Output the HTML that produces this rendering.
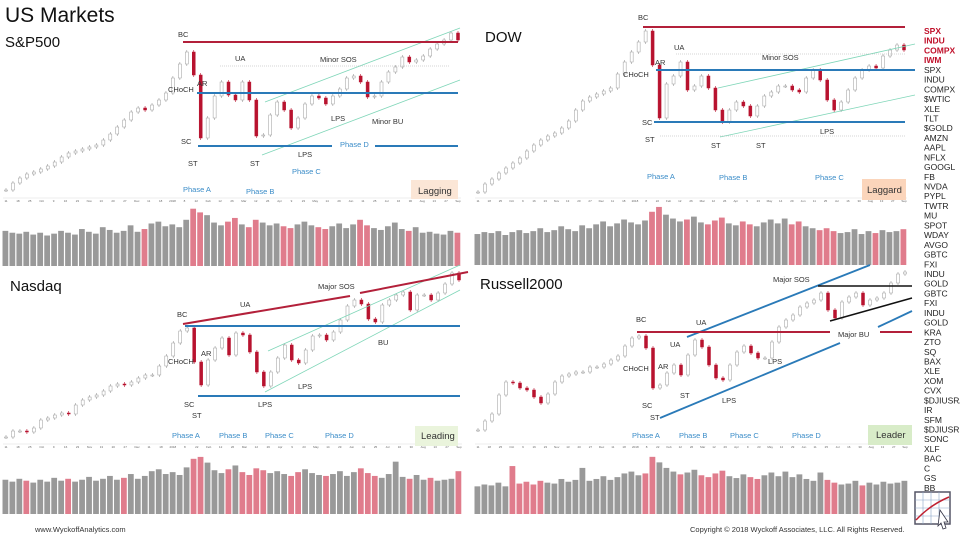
<!DOCTYPE html>
<html><head><meta charset="utf-8"><style>
html,body{margin:0;padding:0;background:#fff;width:960px;height:537px;overflow:hidden}
svg{display:block;font-family:"Liberation Sans",sans-serif}
.lb{font-size:7.5px;fill:#333}
.ph{font-size:7.5px;fill:#3a8cc8}
.tk{font-size:8.5px;fill:#222}
.tkr{font-size:8.5px;fill:#c0102a;font-weight:bold}
.ax{font-size:3px;fill:#666}
</style></head><body>
<svg id="chart" width="960" height="537" viewBox="0 0 960 537">
<text x="5" y="22" font-size="21" fill="#111">US Markets</text>
<text x="5" y="47" font-size="15" fill="#111">S&amp;P500</text>
<text x="485" y="42" font-size="15" fill="#111">DOW</text>
<text x="10" y="291" font-size="15" fill="#111">Nasdaq</text>
<text x="480" y="289" font-size="15" fill="#111">Russell2000</text>
<g id="marks"></g>

<g>
<line x1="265" y1="102" x2="460" y2="28" stroke="#7fd6b8" stroke-width="0.8"/>
<line x1="262" y1="155" x2="460" y2="80" stroke="#7fd6b8" stroke-width="0.8"/>
<line x1="183" y1="42" x2="458" y2="42" stroke="#b3203a" stroke-width="2"/>
<line x1="220" y1="66" x2="450" y2="66" stroke="#aaa" stroke-width="0.6" stroke-dasharray="1,1"/>
<line x1="197" y1="93" x2="458" y2="93" stroke="#2a7ab8" stroke-width="2"/>
<line x1="198" y1="146" x2="332" y2="146" stroke="#2a7ab8" stroke-width="2"/>
<line x1="375" y1="146" x2="458" y2="146" stroke="#2a7ab8" stroke-width="2"/>
<text class="lb" x="178" y="37">BC</text><text class="lb" x="235" y="61">UA</text>
<text class="lb" x="320" y="62">Minor SOS</text><text class="lb" x="197" y="86">AR</text>
<text class="lb" x="168" y="92">CHoCH</text><text class="lb" x="331" y="121">LPS</text>
<text class="lb" x="372" y="124">Minor BU</text><text class="lb" x="181" y="144">SC</text>
<text class="ph" x="340" y="147">Phase D</text><text class="lb" x="188" y="166">ST</text>
<text class="lb" x="250" y="166">ST</text><text class="lb" x="298" y="157">LPS</text>
<text class="ph" x="292" y="174">Phase C</text><text class="ph" x="183" y="192">Phase A</text>
<text class="ph" x="246" y="194">Phase B</text>
<rect x="411" y="180" width="47" height="19" fill="#fbe6d6"/>
<text x="418" y="194" font-size="9.5" fill="#333">Lagging</text>
</g>

<g>
<line x1="718" y1="88" x2="915" y2="44" stroke="#7fd6b8" stroke-width="0.8"/>
<line x1="720" y1="137" x2="915" y2="95" stroke="#7fd6b8" stroke-width="0.8"/>
<line x1="643" y1="27" x2="905" y2="27" stroke="#b3203a" stroke-width="2"/>
<line x1="676" y1="54" x2="905" y2="54" stroke="#aaa" stroke-width="0.6" stroke-dasharray="1,1"/>
<line x1="660" y1="136" x2="905" y2="136" stroke="#aaa" stroke-width="0.6" stroke-dasharray="1,1"/>
<line x1="656" y1="70" x2="915" y2="70" stroke="#2a7ab8" stroke-width="2"/>
<line x1="654" y1="122" x2="905" y2="122" stroke="#2a7ab8" stroke-width="2"/>
<text class="lb" x="638" y="20">BC</text><text class="lb" x="674" y="50">UA</text>
<text class="lb" x="762" y="60">Minor SOS</text><text class="lb" x="655" y="65">AR</text>
<text class="lb" x="623" y="77">CHoCH</text><text class="lb" x="642" y="125">SC</text>
<text class="lb" x="645" y="142">ST</text><text class="lb" x="711" y="148">ST</text>
<text class="lb" x="756" y="148">ST</text><text class="lb" x="820" y="134">LPS</text>
<text class="ph" x="647" y="179">Phase A</text><text class="ph" x="719" y="180">Phase B</text>
<text class="ph" x="815" y="180">Phase C</text>
<rect x="862" y="179" width="44" height="21" fill="#fbd5bb"/>
<text x="867" y="193" font-size="9.5" fill="#333">Laggard</text>
</g>

<g>
<line x1="268" y1="351" x2="460" y2="265" stroke="#7fd6b8" stroke-width="0.8"/>
<line x1="265" y1="392" x2="460" y2="290" stroke="#7fd6b8" stroke-width="0.8"/>
<line x1="183" y1="324" x2="350" y2="296" stroke="#b3203a" stroke-width="2"/>
<line x1="360" y1="293" x2="468" y2="272" stroke="#b3203a" stroke-width="2"/>
<line x1="185" y1="326" x2="460" y2="326" stroke="#2a7ab8" stroke-width="2"/>
<line x1="198" y1="396" x2="460" y2="396" stroke="#2a7ab8" stroke-width="2"/>
<text class="lb" x="177" y="317">BC</text><text class="lb" x="240" y="307">UA</text>
<text class="lb" x="318" y="289">Major SOS</text><text class="lb" x="201" y="356">AR</text>
<text class="lb" x="168" y="364">CHoCH</text><text class="lb" x="184" y="407">SC</text>
<text class="lb" x="192" y="418">ST</text><text class="lb" x="258" y="407">LPS</text>
<text class="lb" x="298" y="389">LPS</text><text class="lb" x="378" y="345">BU</text>
<text class="ph" x="172" y="438">Phase A</text><text class="ph" x="219" y="438">Phase B</text>
<text class="ph" x="265" y="438">Phase C</text><text class="ph" x="325" y="438">Phase D</text>
<rect x="415" y="426" width="43" height="20" fill="#eaf4dc"/>
<text x="421" y="439" font-size="9.5" fill="#333">Leading</text>
</g>

<g>
<line x1="687" y1="337" x2="870" y2="265" stroke="#2a7ab8" stroke-width="1.8"/>
<line x1="660" y1="418" x2="840" y2="343" stroke="#2a7ab8" stroke-width="1.8"/>
<line x1="878" y1="327" x2="912" y2="311" stroke="#2a7ab8" stroke-width="1.8"/>
<line x1="637" y1="332" x2="830" y2="332" stroke="#b3203a" stroke-width="2"/>
<line x1="880" y1="332" x2="912" y2="332" stroke="#b3203a" stroke-width="2"/>
<line x1="818" y1="286" x2="912" y2="286" stroke="#111" stroke-width="1.5"/>
<line x1="830" y1="321" x2="912" y2="298" stroke="#111" stroke-width="1.5"/>
<text class="lb" x="773" y="282">Major SOS</text><text class="lb" x="636" y="322">BC</text>
<text class="lb" x="696" y="325">UA</text><text class="lb" x="670" y="347">UA</text>
<text class="lb" x="623" y="371">CHoCH</text><text class="lb" x="658" y="369">AR</text>
<text class="lb" x="642" y="408">SC</text><text class="lb" x="650" y="420">ST</text>
<text class="lb" x="680" y="398">ST</text><text class="lb" x="722" y="403">LPS</text>
<text class="lb" x="768" y="364">LPS</text><text class="lb" x="838" y="337">Major BU</text>
<text class="ph" x="632" y="438">Phase A</text><text class="ph" x="679" y="438">Phase B</text>
<text class="ph" x="730" y="438">Phase C</text><text class="ph" x="792" y="438">Phase D</text>
<rect x="868" y="425" width="44" height="20" fill="#d8ecc8"/>
<text x="876" y="438" font-size="9.5" fill="#333">Leader</text>
</g>

<g id="tickers"></g>

<text x="35" y="532" font-size="7.5" fill="#333">www.WyckoffAnalytics.com</text>
<text x="690" y="532" font-size="7.5" fill="#333">Copyright © 2018 Wyckoff Associates, LLC. All Rights Reserved.</text>
<g>
<rect x="915" y="492" width="35" height="32" fill="#fff" stroke="#556" stroke-width="1.5"/>
<path d="M915 500H950M915 508H950M915 516H950M923 492V524M931 492V524M939 492V524" stroke="#8aa6c8" stroke-width="0.6"/>
<path d="M916 520 Q930 505 949 497" stroke="#c02030" stroke-width="1.5" fill="none"/>
<path d="M940 510 L948 522 L944 522 L946 528 L943 529 L941 523 L938 526 Z" fill="#fff" stroke="#334" stroke-width="0.8"/>
</g>
</svg>
<script>
const spCloses=[10,17,22,26,28,31,34,38,43,47,49,51,53,55,60,66,73,80,88,92,90,95,100,107,122,136,148,125,62,82,104,118,105,100,118,100,64,65,85,98,90,72,82,96,104,102,96,104,111,122,124,118,103,104,118,128,133,143,138,140,144,151,156,160,167,160];
const spVols=[38,36,35,37,34,36,33,35,38,36,34,40,37,35,42,39,36,38,44,37,40,46,48,43,45,42,50,62,58,55,47,44,48,52,45,42,50,47,44,46,43,41,45,48,44,42,40,43,46,41,45,50,44,41,39,43,47,40,38,42,36,37,35,34,38,36];
const dowCloses=[8,16,21,27,32,37,42,49,55,60,64,67,72,79,90,99,103,106,109,112,126,138,148,158,169,135,82,116,124,138,110,114,124,112,90,78,90,98,94,84,94,104,108,114,114,110,108,122,130,120,100,90,98,110,122,130,134,132,144,150,155,150];
const dowVols=[32,34,33,35,31,34,36,33,35,38,34,36,40,37,35,41,38,42,45,40,43,47,44,42,46,55,60,52,48,45,47,50,44,42,46,49,43,41,45,42,40,44,47,43,48,42,45,40,38,36,38,35,33,34,37,32,35,33,36,34,35,37];
const ndqCloses=[23,29,29,28,32,40,42,45,47,46,55,60,63,65,69,74,76,75,78,82,85,85,94,104,117,129,132,98,75,100,112,122,105,127,125,108,88,74,88,102,115,100,97,110,124,125,120,128,140,154,160,156,141,138,155,160,165,168,150,165,165,160,167,176,187,180];
const ndqVols=[36,34,37,35,33,36,34,38,35,37,34,36,39,35,37,40,36,38,42,37,40,45,47,42,44,41,49,58,60,54,46,43,47,51,44,41,48,46,43,45,42,40,44,47,43,41,40,42,45,40,44,48,43,40,38,42,55,39,37,41,36,38,35,36,37,45];
const rutCloses=[30,39,46,65,78,77,72,70,63,57,66,78,84,86,88,88,93,93,96,100,104,114,122,124,112,72,75,87,95,85,105,120,113,95,82,80,95,108,114,107,102,102,118,133,140,145,153,157,160,167,150,142,158,163,167,155,160,162,167,177,186,188];
const rutVols=[30,32,31,34,30,52,33,35,32,36,34,33,38,35,37,50,36,38,41,37,40,44,46,42,44,62,56,50,46,43,45,48,42,40,44,47,41,39,43,40,38,42,45,41,46,40,43,38,36,45,37,34,32,33,36,31,34,32,35,33,34,36];
const tickers=["SPX","INDU","COMPX","IWM","SPX","INDU","COMPX","$WTIC","XLE","TLT","$GOLD","AMZN","AAPL","NFLX","GOOGL","FB","NVDA","PYPL","TWTR","MU","SPOT","WDAY","AVGO","GBTC","FXI","INDU","GOLD","GBTC","FXI","INDU","GOLD","KRA","ZTO","SQ","BAX","XLE","XOM","CVX","$DJIUSRA","IR","SFM","$DJIUSRU","SONC","XLF","BAC","C","GS","BB"];
const dateTicks=["11","18","25","Oct","9","16","23","Nov","13","20","27","Dec","11","18","2018","8","22","Feb","12","26","Mar","12","26","Apr","9","23","May","14","29","Jun","11","25","Jul","16","30","Aug","13","27","Sep"];

const NS="http://www.w3.org/2000/svg";
const marks=document.getElementById('marks');
function mk(tag,attrs){const e=document.createElementNS(NS,tag);for(const k in attrs)e.setAttribute(k,attrs[k]);return e;}

function drawPanel(name,closes,vols,x0,x1,yBase,yTop,lvlMax,axisY,vBase,vTop,vMax){
  const n=closes.length;
  const step=(x1-x0)/(n-1);
  const xS=i=>x0+i*step;
  const yS=v=>yBase-(v/lvlMax)*(yBase-yTop);
  const vS=v=>(v/vMax)*(vBase-vTop);
  const g=mk('g',{});
  
  
  marks.appendChild(g);
  for(let i=0;i<Math.min(n,vols.length);i++){
    const down=i>0&&closes[i]<closes[i-1];
    const h=vS(vols[i]);
    const r=mk('rect',{x:xS(i)-step/2,y:vBase-h,width:step-1.2,height:h,fill:down?'#e07c8c':'#999'});
    
    
    g.appendChild(r);
  }
  for(let i=0;i<n;i++){
    const o=i>0?closes[i-1]:closes[i];
    const c=closes[i];
    const down=c<o;
    const yo=yS(o),yc=yS(c);
    const top=Math.min(yo,yc),bot=Math.max(yo,yc);
    const w=mk('line',{x1:xS(i),x2:xS(i),y1:top-2,y2:bot+2,stroke:down?'#b8132f':'#999','stroke-width':0.6});
    
    
    g.appendChild(w);
    const b=mk('rect',{x:xS(i)-1.5,y:top,width:3,height:Math.max(1,bot-top),fill:down?'#b8132f':'#fff',stroke:down?'#b8132f':'#999','stroke-width':0.5});
    
    
    g.appendChild(b);
  }
  const ax=mk('line',{x1:x0-3,x2:x1+3,y1:axisY-4,y2:axisY-4,stroke:'#ddd','stroke-width':0.5});
  
  
  g.appendChild(ax);
  dateTicks.forEach((t,j)=>{
    const tx=mk('text',{x:x0+j*(x1-x0)/(dateTicks.length-1),y:axisY,class:'ax','text-anchor':'middle'});
    tx.textContent=t;
    
    
    g.appendChild(tx);
  });
}
drawPanel('sp500',spCloses,spVols,6,458,200,30,170,202,266,205,66);
drawPanel('dow',dowCloses,dowVols,478,904,200,30,170,202,265,205,62);
drawPanel('nasdaq',ndqCloses,ndqVols,6,459,460,270,190,448,514,455,62);
drawPanel('russell2000',rutCloses,rutVols,478,905,460,270,190,448,514,455,64);

const tg=document.getElementById('tickers');
tickers.forEach((t,i)=>{
  const e=mk('text',{x:924,y:34+i*9.72,class:i<4?'tkr':'tk'});
  e.textContent=t;
  
  
  tg.appendChild(e);
});
</script>
</body></html>
